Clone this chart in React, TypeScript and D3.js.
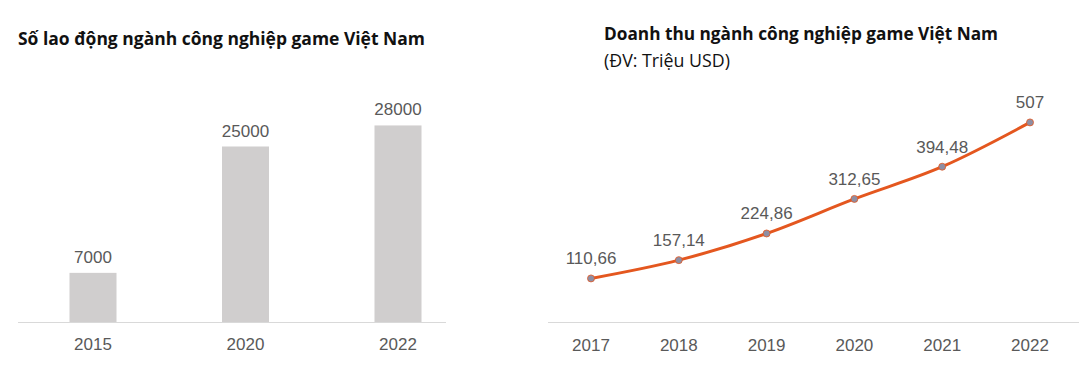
import React from "react";
import * as d3 from "d3";

const laborYears = ["2015", "2020", "2022"];
const laborValues = [7000, 25000, 28000];

const revenueYears = ["2017", "2018", "2019", "2020", "2021", "2022"];
const revenueValues = [110.66, 157.14, 224.86, 312.65, 394.48, 507];
const revenueLabels = ["110,66", "157,14", "224,86", "312,65", "394,48", "507"];

const W = 1079;
const H = 376;

export default function App() {
  const base = 322;
  const xL = d3.scalePoint<string>().domain(laborYears).range([93, 398]);
  const yL = d3.scaleLinear().domain([0, 30000]).range([base, 111.4]);
  const barW = 47;

  const xR = d3.scalePoint<string>().domain(revenueYears).range([591, 1030]);
  const yR = d3.scaleLinear().domain([0, 600]).range([base, 85.8]);
  const line = d3
    .line<number>()
    .x((_, i) => xR(revenueYears[i]) as number)
    .y((d) => yR(d))
    .curve(d3.curveMonotoneX);

  const font = "'Liberation Sans', Arial, sans-serif";
  const titleFont = "'Open Sans', 'Liberation Sans', sans-serif";
  const grey = "#595959";
  const fs = 17;

  return (
    <svg
      width={W}
      height={H}
      style={{ position: "absolute", left: 0, top: 0, background: "#fff" }}
    >
      <rect x={0} y={0} width={W} height={H} fill="#fff" />
      {/* Left chart */}
      <text
        x={18}
        y={45}
        fontFamily={titleFont}
        fontWeight={700}
        fontSize={18.5}
        fill="#111"
        textLength={407}
        lengthAdjust="spacingAndGlyphs"
      >
        Số lao động ngành công nghiệp game Việt Nam
      </text>
      {laborValues.map((v, i) => (
        <g key={laborYears[i]}>
          <rect
            x={(xL(laborYears[i]) as number) - barW / 2}
            y={yL(v)}
            width={barW}
            height={base - yL(v)}
            fill="#d0cece"
          />
          <text
            x={xL(laborYears[i]) as number}
            y={yL(v) - 10}
            textAnchor="middle"
            fontFamily={font}
            fontSize={fs}
            fill={grey}
          >
            {v}
          </text>
          <text
            x={xL(laborYears[i]) as number}
            y={350}
            textAnchor="middle"
            fontFamily={font}
            fontSize={fs}
            fill={grey}
          >
            {laborYears[i]}
          </text>
        </g>
      ))}
      <line x1={18} x2={446} y1={base + 0.5} y2={base + 0.5} stroke="#d9d9d9" strokeWidth={1} />

      {/* Right chart */}
      <text
        x={604}
        y={40}
        fontFamily={titleFont}
        fontWeight={700}
        fontSize={18.5}
        fill="#111"
        textLength={394}
        lengthAdjust="spacingAndGlyphs"
      >
        Doanh thu ngành công nghiệp game Việt Nam
      </text>
      <text
        x={604}
        y={67}
        fontFamily={titleFont}
        fontSize={18.5}
        fill="#111"
        textLength={126}
        lengthAdjust="spacingAndGlyphs"
      >
        (ĐV: Triệu USD)
      </text>
      <line x1={548} x2={1079} y1={base + 0.5} y2={base + 0.5} stroke="#d9d9d9" strokeWidth={1} />
      <path d={line(revenueValues) || ""} fill="none" stroke="#e4571f" strokeWidth={3} />
      {revenueValues.map((v, i) => (
        <g key={revenueYears[i]}>
          <circle cx={xR(revenueYears[i]) as number} cy={yR(v)} r={3.5} fill="#8e8ea3" stroke="#e4571f" strokeWidth={0.8} />
          <text
            x={xR(revenueYears[i]) as number}
            y={yR(v) - 14}
            textAnchor="middle"
            fontFamily={font}
            fontSize={fs}
            fill={grey}
          >
            {revenueLabels[i]}
          </text>
          <text
            x={xR(revenueYears[i]) as number}
            y={351}
            textAnchor="middle"
            fontFamily={font}
            fontSize={fs}
            fill={grey}
          >
            {revenueYears[i]}
          </text>
        </g>
      ))}
    </svg>
  );
}
